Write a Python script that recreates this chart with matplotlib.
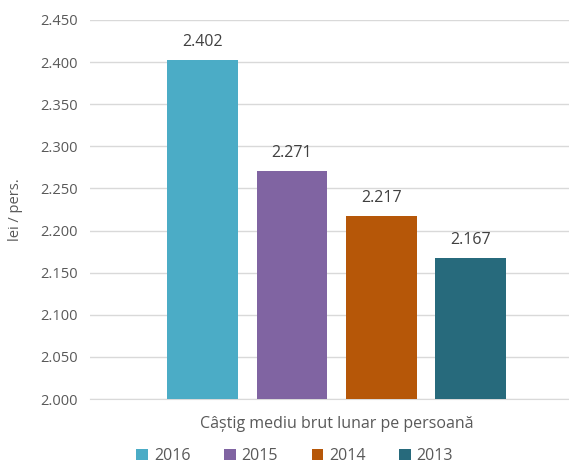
import matplotlib.pyplot as plt
import numpy as np

# date
ani = ['2016', '2015', '2014', '2013']
valori = [2.402, 2.271, 2.217, 2.167]
culori = ['#4BACC6', '#8064A2', '#B65708', '#276A7C']
categorie = 'Câștig mediu brut lunar pe persoană'

plt.rcParams['font.family'] = ['Open Sans', 'DejaVu Sans']
gri = '#595959'

fig = plt.figure(figsize=(5.69, 4.63), dpi=100)
ax = fig.add_axes([0.158, 0.138, 0.842, 0.819])

x = np.arange(len(ani))
bare = ax.bar(x, [v - 2.0 for v in valori], bottom=2.0, width=0.79,
              color=culori, zorder=3)
for xi, v in zip(x, valori):
    ax.text(xi, v + 0.012, f'{v:.3f}', ha='center', va='bottom',
            fontsize=11.5, color='#404040')

ax.set_ylim(2.0, 2.45)
ax.set_yticks(np.arange(2.0, 2.451, 0.05))
ax.set_yticklabels([f'{t:.3f}' for t in np.arange(2.0, 2.451, 0.05)])
ax.set_xlim(-1.26, 4.10)
ax.set_xticks([1.5])
ax.set_xticklabels([categorie])
ax.tick_params(axis='both', length=0, colors=gri, labelsize=10.5)
ax.tick_params(axis='x', pad=12, labelsize=11.5)
ax.tick_params(axis='y', pad=9)

ax.grid(axis='y', color='#D9D9D9', linewidth=1, zorder=0)
for s in ['top', 'right', 'left']:
    ax.spines[s].set_visible(False)
ax.spines['bottom'].set_color('#D9D9D9')

ax.set_ylabel('lei / pers.', color=gri, fontsize=10.5, labelpad=12)

fig.legend(bare, ani, loc='center', bbox_to_anchor=(0.518, 0.015), ncol=4,
           frameon=False, fontsize=11.5, labelcolor=gri, handlelength=0.75,
           handleheight=0.75, handletextpad=0.35, columnspacing=2.1)

fig.savefig('out.png', dpi=100)
